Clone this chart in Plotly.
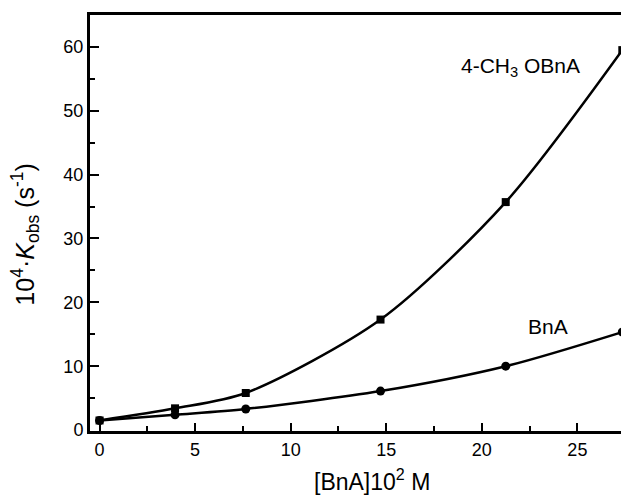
import plotly.graph_objects as go

conc = [0, 3.95, 7.65, 14.7, 21.25, 27.35]
k_ch3o = [1.5, 3.4, 5.8, 17.3, 35.7, 59.5]
k_bna = [1.5, 2.4, 3.3, 6.1, 10.0, 15.35]

x_ticks = [0, 5, 10, 15, 20, 25]
y_ticks = [0, 10, 20, 30, 40, 50, 60]

font = "Liberation Sans, Arial, sans-serif"

fig = go.Figure()
fig.add_trace(go.Scatter(x=conc, y=k_ch3o, mode="lines+markers", line=dict(color="black", width=2.5, shape="spline", smoothing=0.8),
                         marker=dict(symbol="square", size=8, color="black"), showlegend=False, cliponaxis=False))
fig.add_trace(go.Scatter(x=conc, y=k_bna, mode="lines+markers", line=dict(color="black", width=2.5, shape="spline", smoothing=0.8),
                         marker=dict(symbol="circle", size=9, color="black"), showlegend=False, cliponaxis=False))

fig.add_annotation(x=22.0, y=56.8, text="4-CH<sub>3</sub> OBnA", showarrow=False, xanchor="center", yanchor="middle",
                   font=dict(family=font, size=21, color="black"))
fig.add_annotation(x=23.45, y=16.2, text="BnA", showarrow=False, xanchor="center", yanchor="middle",
                   font=dict(family=font, size=21, color="black"))

# axis titles
fig.add_annotation(x=14.25, xref="x", y=0, yref="paper", yshift=-49, text="[BnA]10<sup>2</sup> M", showarrow=False,
                   xanchor="center", yanchor="middle", font=dict(family=font, size=23, color="black"))
fig.add_annotation(x=0, xref="paper", xshift=-65, y=30.6, yref="y", textangle=-90,
                   text="10<sup>4</sup>·<i>K</i><sub>obs</sub> (s<sup>-1</sup>)", showarrow=False,
                   xanchor="center", yanchor="middle", font=dict(family=font, size=25, color="black"))

fig.update_xaxes(range=[-0.5, 27.7], tickvals=x_ticks, ticks="inside", ticklen=8, tickwidth=2, tickcolor="black",
                 minor=dict(ticks="inside", ticklen=5, tickwidth=2, dtick=2.5, tick0=0, tickcolor="black"),
                 showline=True, linewidth=3, linecolor="black", mirror=True, showgrid=False, zeroline=False,
                 tickfont=dict(family=font, size=18, color="black"), automargin=False)
fig.update_yaxes(range=[-0.15, 65], tickvals=y_ticks, ticks="inside", ticklen=9, tickwidth=2, tickcolor="black",
                 minor=dict(ticks="inside", ticklen=5, tickwidth=2, dtick=5, tick0=0, tickcolor="black"),
                 showline=True, linewidth=3, linecolor="black", mirror=False, showgrid=False, zeroline=False,
                 tickfont=dict(family=font, size=18, color="black"), automargin=False)

# page body has an 8px margin, so the figure is sized/offset to fill the 629x495 window
fig.update_layout(width=621, height=487, margin=dict(l=82, r=0, t=7, b=64),
                  plot_bgcolor="white", paper_bgcolor="white")

fig.write_html("out.html")
